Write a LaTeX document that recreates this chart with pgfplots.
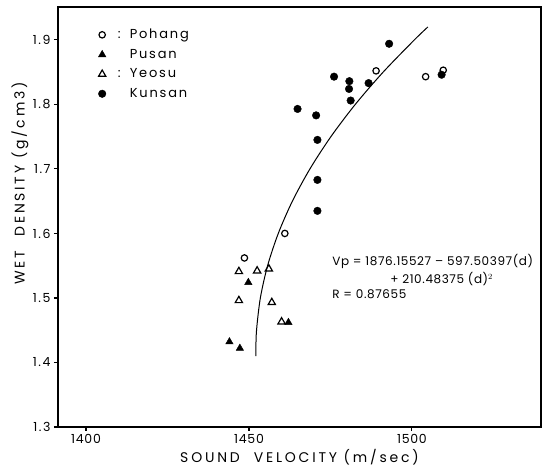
\documentclass[border=0pt]{standalone}
\usepackage{pgfplots}
\pgfplotsset{compat=1.18}
\usepackage{fontspec}
\setmainfont{Poppins}
\newcommand{\ls}[1]{\addfontfeature{LetterSpace=#1}}

\pgfplotstableread{
x y
1448.6 1.562
1461.0 1.600
1489.0 1.852
1504.2 1.843
1509.6 1.853
}\pohang
\pgfplotstableread{
x y
1449.8 1.524
1462.1 1.462
1444.0 1.432
1447.2 1.422
}\pusan
\pgfplotstableread{
x y
1446.9 1.541
1452.5 1.542
1456.1 1.545
1446.9 1.496
1457.0 1.493
1460.0 1.463
}\yeosu
\pgfplotstableread{
x y
1493.0 1.894
1509.1 1.846
1476.1 1.843
1480.8 1.836
1480.7 1.824
1486.7 1.833
1481.2 1.806
1464.9 1.793
1470.6 1.783
1471.0 1.745
1471.0 1.683
1471.0 1.635
}\kunsan
\pgfplotstableread{
d v
1.41 1452.137
1.42 1452.118
1.45 1452.316
1.50 1453.487
1.55 1455.711
1.60 1458.987
1.65 1463.315
1.70 1468.696
1.75 1475.129
1.80 1482.615
1.85 1491.154
1.90 1500.743
1.92 1504.874
}\fit

\begin{document}
\begin{tikzpicture}
\begin{axis}[
  scale only axis, width=483pt, height=420pt,
  xmin=1391.4, xmax=1539.6, ymin=1.3, ymax=1.951,
  xtick={1400,1450,1500}, ytick={1.3,1.4,1.5,1.6,1.7,1.8,1.9},
  xtick pos=bottom, ytick pos=left, tick align=outside,
  major tick length=4pt,
  axis line style={line width=1.1pt},
  tick style={line width=1.1pt, black},
  /pgf/number format/assume math mode=true,
  xticklabel style={font=\fontsize{12.5}{14}\selectfont\ls{6}, /pgf/number format/1000 sep={}},
  yticklabel style={font=\fontsize{12.5}{14}\selectfont\ls{12}, /pgf/number format/.cd, fixed, precision=1, fixed zerofill},
  xlabel={SOUND\quad VELOCITY (m/sec)},
  ylabel={WET\quad DENSITY (g/cm3)},
  xlabel style={font=\fontsize{14}{16}\selectfont\ls{20}, at={(axis description cs:0.5,-0.072)}, anchor=center},
  ylabel style={font=\fontsize{14}{16}\selectfont\ls{20}, at={(axis description cs:-0.079,0.58)}, anchor=center},
  legend cell align=left,
  legend style={draw=none, fill=none, at={(axis description cs:0.077,0.957)}, anchor=north west,
    font=\fontsize{13}{15}\selectfont\ls{14}, row sep=5pt},
]
\addplot[only marks, mark=o, mark size=3.2pt, line width=1.2pt, black] table[x=x,y=y] {\pohang};
\addlegendentry{\hspace*{10pt}:\hspace*{9pt}Pohang}
\addplot[only marks, mark=triangle*, mark size=4.3pt, black, fill=black] table[x=x,y=y] {\pusan};
\addlegendentry{\hspace*{10pt}\phantom{:}\hspace*{9pt}Pusan}
\addplot[only marks, mark=triangle, mark size=4.2pt, line width=1.2pt, black] table[x=x,y=y] {\yeosu};
\addlegendentry{\hspace*{10pt}:\hspace*{9pt}Yeosu}
\addplot[only marks, mark=*, mark size=3.8pt, black] table[x=x,y=y] {\kunsan};
\addlegendentry{\hspace*{10pt}\phantom{:}\hspace*{9pt}Kunsan}
\addplot[black, line width=1pt, smooth, forget plot] table[x=v,y=d] {\fit};
\node[anchor=west, font=\fontsize{12}{14}\selectfont\ls{5}, inner sep=0pt] at (axis cs:1475.5,1.557) {Vp = 1876.15527 -- 597.50397(d)};
\node[anchor=west, font=\fontsize{12}{14}\selectfont\ls{5}, inner sep=0pt] at (axis cs:1493.3,1.529) {+ 210.48375 (d)$^2$};
\node[anchor=west, font=\fontsize{12}{14}\selectfont\ls{5}, inner sep=0pt] at (axis cs:1475.5,1.506) {R = 0.87655};
\end{axis}
\pgfresetboundingbox
\path ([shift={(-58pt,-42pt)}]current axis.south west) rectangle ([shift={(3pt,7pt)}]current axis.north east);
\end{tikzpicture}
\end{document}
